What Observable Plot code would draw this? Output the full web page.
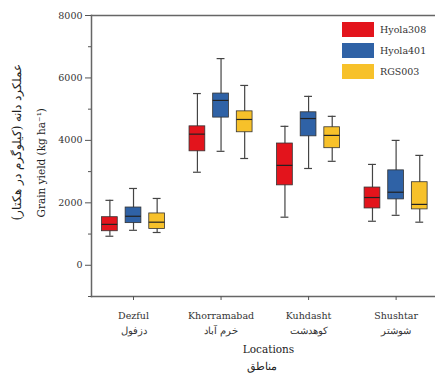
<!DOCTYPE html>
<html><head><meta charset="utf-8">
<script src="https://cdn.jsdelivr.net/npm/d3@7"></script>
<script src="https://cdn.jsdelivr.net/npm/@observablehq/plot@0.6"></script>
<style>
body{margin:0;background:#fff;}
#wrap{position:relative;width:435px;height:379px;}
#legend{position:absolute;left:342px;top:19px;font-family:"DejaVu Serif",serif;font-size:9.5px;color:#333;}
#legend .row{display:flex;align-items:center;height:21px;}
#legend .sw{width:32px;height:15px;margin-right:6px;}
</style></head>
<body><div id="wrap"><div id="legend"></div></div>
<script>
const locations = ["Dezful", "Khorramabad", "Kuhdasht", "Shushtar"];
const locationsFa = ["دزفول", "خرم آباد", "کوهدشت", "شوشتر"];
const varieties = ["Hyola308", "Hyola401", "RGS003"];
const colors = ["#e3141c", "#2f62a6", "#f7c12a"];
// [variety][location]
const whiskerLow = [[930, 2980, 1540, 1410], [1120, 3650, 3100, 1600], [1050, 3420, 3330, 1380]];
const q1 = [[1090, 3650, 2560, 1820], [1350, 4730, 4130, 2110], [1160, 4260, 3750, 1790]];
const median = [[1310, 4200, 3200, 2170], [1570, 5280, 4700, 2340], [1380, 4670, 4160, 1950]];
const q3 = [[1540, 4450, 3900, 2490], [1850, 5500, 4900, 3040], [1660, 4930, 4420, 2660]];
const whiskerHigh = [[2080, 5500, 4450, 3230], [2460, 6620, 5410, 4000], [2140, 5760, 4770, 3520]];
const yTicks = [0, 2000, 4000, 6000, 8000];
const yMinorTicks = [-1000, 1000, 3000, 5000, 7000];

const offset = 0.27, half = 0.09, cap = 0.045;
const data = [];
varieties.forEach((v, j) => locations.forEach((loc, i) => {
  const c = i + (j - 1) * offset;
  data.push({variety: v, x: c, x1: c - half, x2: c + half, c1: c - cap, c2: c + cap,
    lo: whiskerLow[j][i], q1: q1[j][i], med: median[j][i], q3: q3[j][i], hi: whiskerHigh[j][i]});
}));

const serif = "DejaVu Serif, Liberation Serif, serif";
const plot = Plot.plot({
  width: 435, height: 379,
  marginLeft: 91, marginRight: 0, marginTop: 15, marginBottom: 83,
  style: {fontFamily: serif, color: "#333", background: "#fff"},
  x: {domain: [-0.48, 3.45], axis: null},
  y: {domain: [-1000, 8000], axis: null},
  color: {domain: varieties, range: colors},
  marks: [
    Plot.frame({anchor: "top", stroke: "#666", strokeWidth: 1.5}),
    Plot.frame({anchor: "left", stroke: "#666", strokeWidth: 1.5}),
    Plot.frame({anchor: "bottom", stroke: "#666", strokeWidth: 1.5}),
    Plot.axisY({ticks: yTicks, tickFormat: d => String(d), tickSize: 6, tickPadding: 3, fontSize: 9.5, label: null, stroke: "#555"}),
    Plot.axisY({ticks: yMinorTicks, tickFormat: null, text: null, tickSize: 3, label: null, stroke: "#555"}),
    Plot.axisX({ticks: [0, 1, 2, 3], tickFormat: i => locations[i] + "\n" + locationsFa[i], tickSize: 4, tickPadding: 8, fontSize: 9.5, label: null, stroke: "#555", lineHeight: 1.55}),
    Plot.ruleX(data, {x: "x", y1: "lo", y2: "hi", stroke: "#444", strokeWidth: 1.2}),
    Plot.ruleY(data, {y: "lo", x1: "c1", x2: "c2", stroke: "#444", strokeWidth: 1.2}),
    Plot.ruleY(data, {y: "hi", x1: "c1", x2: "c2", stroke: "#444", strokeWidth: 1.2}),
    Plot.rect(data, {x1: "x1", x2: "x2", y1: "q1", y2: "q3", fill: "variety", stroke: "#333", strokeWidth: 0.8}),
    Plot.ruleY(data, {y: "med", x1: "x1", x2: "x2", stroke: "#222", strokeWidth: 1.2}),
    Plot.text(["Grain yield (kg ha⁻¹)"], {frameAnchor: "bottom-left", textAnchor: "start", rotate: -90, dx: -47, dy: -79, fontSize: 10.5, fill: "#222"}),
    Plot.text(["عملکرد دانه (کیلوگرم در هکتار)"], {frameAnchor: "bottom-left", textAnchor: "start", rotate: -90, dx: -71, dy: -76, fontSize: 12, fill: "#222"}),
    Plot.text(["Locations"], {frameAnchor: "bottom", dx: 5, dy: 56, fontSize: 10.5, fill: "#222"}),
    Plot.text(["مناطق"], {frameAnchor: "bottom", dx: -2, dy: 73, fontSize: 11, fill: "#222"})
  ]
});
const wrap = document.getElementById("wrap");
wrap.insertBefore(plot, wrap.firstChild);
const legend = document.getElementById("legend");
varieties.forEach((v, j) => {
  const row = document.createElement("div");
  row.className = "row";
  row.innerHTML = `<div class="sw" style="background:${colors[j]}"></div><span>${v}</span>`;
  legend.appendChild(row);
});
</script></body></html>
